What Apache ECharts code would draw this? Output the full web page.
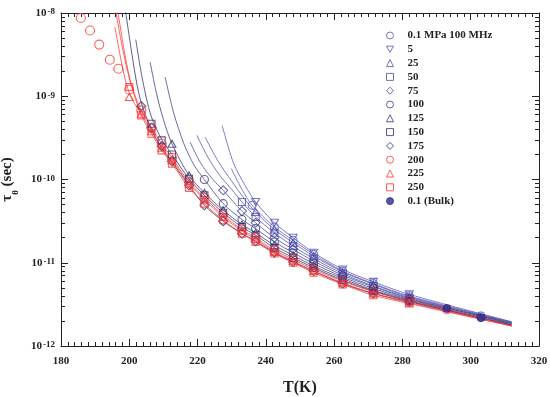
<!DOCTYPE html>
<html><head><meta charset="utf-8">
<script src="https://cdn.jsdelivr.net/npm/echarts@6/dist/echarts.min.js"></script>
<style>html,body{margin:0;padding:0;background:#fff}#c{width:550px;height:397px}</style>
</head><body><div id="c"></div>
<script>
// ---------- data (T in K, tau in s) ----------
const xTicks = [180, 200, 220, 240, 260, 280, 300, 320];
const yDecades = [1e-12, 1e-11, 1e-10, 1e-9, 1e-8];

const T_p01 = [236, 242.5, 248, 254, 262.5, 271.5, 282];
const tau_p01 = [4.90e-11, 2.69e-11, 1.86e-11, 1.26e-11, 7.94e-12, 5.62e-12, 3.98e-12];
const T_p5 = [237, 242.5, 248, 254, 262.5, 271.5, 282];
const tau_p5 = [5.37e-11, 3.02e-11, 2.00e-11, 1.32e-11, 8.32e-12, 5.89e-12, 4.17e-12];
const T_p25 = [237, 242.5, 248, 254, 262.5, 271.5, 282];
const tau_p25 = [4.07e-11, 2.51e-11, 1.74e-11, 1.20e-11, 7.76e-12, 5.50e-12, 3.89e-12];
const T_p50 = [233, 237, 242.5, 248, 254, 262.5, 271.5, 282];
const tau_p50 = [5.37e-11, 3.55e-11, 2.29e-11, 1.58e-11, 1.12e-11, 7.41e-12, 5.25e-12, 3.80e-12];
const T_p75 = [227.5, 233, 237, 242.5, 248, 254, 262.5, 271.5, 282];
const tau_p75 = [7.41e-11, 4.17e-11, 3.02e-11, 2.00e-11, 1.45e-11, 1.05e-11, 7.08e-12, 5.13e-12, 3.72e-12];
const T_p100 = [222, 227.5, 233, 237, 242.5, 248, 254, 262.5, 271.5, 282, 303];
const tau_p100 = [1.00e-10, 5.13e-11, 3.31e-11, 2.57e-11, 1.78e-11, 1.32e-11, 9.77e-12, 6.76e-12, 4.90e-12, 3.63e-12, 2.29e-12];
const T_p125 = [212.5, 217.5, 222, 227.5, 233, 237, 242.5, 248, 254, 262.5, 271.5, 282];
const tau_p125 = [2.69e-10, 1.12e-10, 6.92e-11, 4.27e-11, 2.88e-11, 2.29e-11, 1.62e-11, 1.23e-11, 9.12e-12, 6.46e-12, 4.68e-12, 3.55e-12];
const T_p150 = [206.5, 209.5, 212.5, 217.5, 222, 227.5, 233, 237, 242.5, 248, 254, 262.5, 271.5, 282];
const tau_p150 = [4.68e-10, 2.95e-10, 2.00e-10, 1.02e-10, 6.46e-11, 3.98e-11, 2.69e-11, 2.14e-11, 1.51e-11, 1.15e-11, 8.71e-12, 6.17e-12, 4.57e-12, 3.47e-12];
const T_p175 = [203.5, 206.5, 209.5, 212.5, 217.5, 222, 227.5, 233, 237, 242.5, 248, 254, 262.5, 271.5, 282];
const tau_p175 = [7.59e-10, 4.17e-10, 2.51e-10, 1.66e-10, 8.51e-11, 4.90e-11, 3.16e-11, 2.24e-11, 1.82e-11, 1.32e-11, 1.02e-11, 7.94e-12, 5.62e-12, 4.27e-12, 3.39e-12];
const T_p200 = [185.8, 188.5, 191.2, 194.3, 196.8, 200, 203.5, 206.5, 209.5, 212.5, 217.5, 222, 227.5, 233, 237, 242.5, 248, 254, 262.5, 271.5, 282, 293];
const tau_p200 = [8.71e-9, 6.17e-9, 4.17e-9, 2.75e-9, 2.14e-9, 1.20e-9, 6.76e-10, 4.17e-10, 2.69e-10, 1.82e-10, 9.33e-11, 6.03e-11, 3.72e-11, 2.51e-11, 2.00e-11, 1.41e-11, 1.10e-11, 8.32e-12, 6.03e-12, 4.47e-12, 3.47e-12, 2.75e-12];
const T_p225 = [200, 203.5, 206.5, 209.5, 212.5, 217.5, 222, 227.5, 233, 237, 242.5, 248, 254, 262.5, 271.5, 282];
const tau_p225 = [9.77e-10, 6.17e-10, 3.80e-10, 2.40e-10, 1.70e-10, 8.91e-11, 5.75e-11, 3.55e-11, 2.40e-11, 1.91e-11, 1.35e-11, 1.05e-11, 7.94e-12, 5.75e-12, 4.27e-12, 3.31e-12];
const T_p250 = [200, 203.5, 206.5, 209.5, 212.5, 217.5, 222, 227.5, 233, 237, 242.5, 248, 254, 262.5, 271.5, 282];
const tau_p250 = [1.29e-9, 5.89e-10, 3.55e-10, 2.24e-10, 1.55e-10, 7.94e-11, 5.13e-11, 3.24e-11, 2.24e-11, 1.78e-11, 1.29e-11, 1.00e-11, 7.59e-12, 5.50e-12, 4.07e-12, 3.24e-12];
const T_bulk = [293, 303];
const tau_bulk = [2.82e-12, 2.19e-12];

// fitted curves
const fitT_p5 = [227.2, 230.5, 233.9, 237, 242.5, 248, 254, 262.5, 271.5, 282, 312];
const fitTau_p5 = [4.47e-10, 1.58e-10, 8.51e-11, 5.37e-11, 3.02e-11, 2.00e-11, 1.32e-11, 8.32e-12, 5.89e-12, 4.17e-12, 1.95e-12];
const fitT_p01 = [229.9, 233, 236, 242.5, 248, 254, 262.5, 271.5, 282, 312];
const fitTau_p01 = [1.35e-10, 7.59e-11, 4.90e-11, 2.69e-11, 1.86e-11, 1.26e-11, 7.94e-12, 5.62e-12, 3.98e-12, 1.95e-12];
const fitT_p25 = [222.2, 226, 230, 233.5, 237, 242.5, 248, 254, 262.5, 271.5, 282, 312];
const fitTau_p25 = [3.24e-10, 1.66e-10, 9.55e-11, 6.03e-11, 4.07e-11, 2.51e-11, 1.74e-11, 1.20e-11, 7.76e-12, 5.50e-12, 3.89e-12, 1.91e-12];
const fitT_p50 = [219.8, 223, 226.5, 230, 233, 237, 242.5, 248, 254, 262.5, 271.5, 282, 312];
const fitTau_p50 = [3.39e-10, 1.86e-10, 1.12e-10, 7.59e-11, 5.37e-11, 3.55e-11, 2.29e-11, 1.58e-11, 1.12e-11, 7.41e-12, 5.25e-12, 3.80e-12, 1.91e-12];
const fitT_p75 = [217.8, 221, 224.5, 227.5, 233, 237, 242.5, 248, 254, 262.5, 271.5, 282, 312];
const fitTau_p75 = [2.82e-10, 1.55e-10, 1.00e-10, 7.41e-11, 4.17e-11, 3.02e-11, 2.00e-11, 1.45e-11, 1.05e-11, 7.08e-12, 5.13e-12, 3.72e-12, 1.86e-12];
const fitT_p100 = [210.5, 213, 216, 219, 222, 227.5, 233, 237, 242.5, 248, 254, 262.5, 271.5, 282, 303, 312];
const fitTau_p100 = [1.70e-9, 6.31e-10, 2.69e-10, 1.48e-10, 1.00e-10, 5.13e-11, 3.31e-11, 2.57e-11, 1.78e-11, 1.32e-11, 9.77e-12, 6.76e-12, 4.90e-12, 3.63e-12, 2.29e-12, 1.86e-12];
const fitT_p125 = [206.1, 208, 210, 212.5, 217.5, 222, 227.5, 233, 237, 242.5, 248, 254, 262.5, 271.5, 282, 312];
const fitTau_p125 = [2.57e-9, 1.07e-9, 5.25e-10, 2.69e-10, 1.12e-10, 6.92e-11, 4.27e-11, 2.88e-11, 2.29e-11, 1.62e-11, 1.23e-11, 9.12e-12, 6.46e-12, 4.68e-12, 3.55e-12, 1.82e-12];
const fitT_p150 = [201.9, 203.5, 205, 206.5, 209.5, 212.5, 217.5, 222, 227.5, 233, 237, 242.5, 248, 254, 262.5, 271.5, 282, 312];
const fitTau_p150 = [4.79e-9, 1.91e-9, 9.55e-10, 5.62e-10, 3.02e-10, 2.00e-10, 1.02e-10, 6.46e-11, 3.98e-11, 2.69e-11, 2.14e-11, 1.51e-11, 1.15e-11, 8.71e-12, 6.17e-12, 4.57e-12, 3.47e-12, 1.78e-12];
const fitT_p175 = [198.8, 200.5, 202, 203.5, 206.5, 209.5, 212.5, 217.5, 222, 227.5, 233, 237, 242.5, 248, 254, 262.5, 271.5, 282, 312];
const fitTau_p175 = [1.12e-8, 3.80e-9, 1.58e-9, 8.32e-10, 3.98e-10, 2.40e-10, 1.62e-10, 8.51e-11, 4.90e-11, 3.16e-11, 2.24e-11, 1.82e-11, 1.32e-11, 1.02e-11, 7.94e-12, 5.62e-12, 4.27e-12, 3.39e-12, 1.78e-12];
const fitT_p200 = [196, 198, 200, 201.5, 203.5, 206.5, 209.5, 212.5, 217.5, 222, 227.5, 233, 237, 242.5, 248, 254, 262.5, 271.5, 282, 293, 312];
const fitTau_p200 = [1.07e-8, 3.80e-9, 1.66e-9, 1.07e-9, 6.76e-10, 4.17e-10, 2.69e-10, 1.82e-10, 9.33e-11, 6.03e-11, 3.72e-11, 2.51e-11, 2.00e-11, 1.41e-11, 1.10e-11, 8.32e-12, 6.03e-12, 4.47e-12, 3.47e-12, 2.75e-12, 1.74e-12];
const fitT_p225 = [195.8, 197.5, 199.2, 201, 203.5, 206.5, 209.5, 212.5, 217.5, 222, 227.5, 233, 237, 242.5, 248, 254, 262.5, 271.5, 282, 312];
const fitTau_p225 = [6.76e-9, 2.82e-9, 1.38e-9, 8.91e-10, 6.17e-10, 3.80e-10, 2.40e-10, 1.70e-10, 8.91e-11, 5.75e-11, 3.55e-11, 2.40e-11, 1.91e-11, 1.35e-11, 1.05e-11, 7.94e-12, 5.75e-12, 4.27e-12, 3.31e-12, 1.74e-12];
const fitT_p250 = [196.6, 198.5, 200.3, 201.8, 203.5, 206.5, 209.5, 212.5, 217.5, 222, 227.5, 233, 237, 242.5, 248, 254, 262.5, 271.5, 282, 312];
const fitTau_p250 = [1.07e-8, 3.55e-9, 1.51e-9, 9.33e-10, 5.89e-10, 3.55e-10, 2.24e-10, 1.55e-10, 7.94e-11, 5.13e-11, 3.24e-11, 2.24e-11, 1.78e-11, 1.29e-11, 1.00e-11, 7.59e-12, 5.50e-12, 4.07e-12, 3.24e-12, 1.74e-12];

// ---------- styling ----------
const DOWN_TRI = 'path://M0,0L10,0L5,9Z';
const defs = [
  {name: '0.1 MPa 100 MHz', T: T_p01, tau: tau_p01, fT: fitT_p01, fTau: fitTau_p01, sym: 'circle', size: 8, color: '#5858bc'},
  {name: '5', T: T_p5, tau: tau_p5, fT: fitT_p5, fTau: fitTau_p5, sym: DOWN_TRI, size: [8, 7], color: '#5555b6'},
  {name: '25', T: T_p25, tau: tau_p25, fT: fitT_p25, fTau: fitTau_p25, sym: 'triangle', size: [8, 7], color: '#5151ae'},
  {name: '50', T: T_p50, tau: tau_p50, fT: fitT_p50, fTau: fitTau_p50, sym: 'rect', size: 7, color: '#4d4da6'},
  {name: '75', T: T_p75, tau: tau_p75, fT: fitT_p75, fTau: fitTau_p75, sym: 'diamond', size: [9, 9], color: '#47479c'},
  {name: '100', T: T_p100, tau: tau_p100, fT: fitT_p100, fTau: fitTau_p100, sym: 'circle', size: 8, color: '#3d3d82'},
  {name: '125', T: T_p125, tau: tau_p125, fT: fitT_p125, fTau: fitTau_p125, sym: 'triangle', size: [8, 7], color: '#363676'},
  {name: '150', T: T_p150, tau: tau_p150, fT: fitT_p150, fTau: fitTau_p150, sym: 'rect', size: 7, color: '#2f2f6c'},
  {name: '175', T: T_p175, tau: tau_p175, fT: fitT_p175, fTau: fitTau_p175, sym: 'diamond', size: [9, 9], color: '#2a2a62'},
  {name: '200', T: T_p200, tau: tau_p200, fT: fitT_p200, fTau: fitTau_p200, sym: 'circle', size: 9, color: '#ff3535'},
  {name: '225', T: T_p225, tau: tau_p225, fT: fitT_p225, fTau: fitTau_p225, sym: 'triangle', size: [8, 7], color: '#ff3535'},
  {name: '250', T: T_p250, tau: tau_p250, fT: fitT_p250, fTau: fitTau_p250, sym: 'rect', size: 7, color: '#ff3535'},
  {name: '0.1 (Bulk)', T: T_bulk, tau: tau_bulk, fT: null, fTau: null, sym: 'circle', size: 8, color: '#2c2c90', filled: true}
];

const FONT = "'Liberation Serif', 'Times New Roman', serif";
const TXT = '#222';

const series = [];
defs.forEach(d => {
  if (d.fT) {
    series.push({
      name: 'fit ' + d.name, type: 'line', silent: true, symbol: 'none', showSymbol: false,
      smooth: 0.3, z: 2, animation: false,
      data: d.fT.map((t, i) => [t, d.fTau[i]]),
      lineStyle: {width: 0.9, color: d.color, opacity: 0.85}
    });
  }
});
defs.forEach(d => {
  series.push({
    name: d.name, type: 'scatter', z: 3, animation: false,
    symbol: d.sym, symbolSize: d.size,
    data: d.T.map((t, i) => [t, d.tau[i]]),
    itemStyle: d.filled ? {color: d.color, borderColor: d.color, borderWidth: 1}
                        : {color: 'rgba(255,255,255,0)', borderColor: d.color, borderWidth: 1.1}
  });
});

const minorY = [];
for (let i = 0; i < yDecades.length - 1; i++) {
  for (let k = 2; k <= 9; k++) minorY.push(k * yDecades[i]);
}

const mkAxisLine = () => ({show: true, lineStyle: {color: '#222', width: 1}});
const mkMajTick = () => ({show: true, inside: true, length: 7, lineStyle: {color: '#222', width: 1}});
const mkMinTickX = () => ({show: true, splitNumber: 10, length: 4, lineStyle: {color: '#222', width: 1}});
const mkMinTickY = () => ({show: true, inside: true, length: 4, customValues: minorY, lineStyle: {color: '#222', width: 1}});
const labelStyle = {fontFamily: FONT, fontWeight: 'bold', fontSize: 11, color: TXT};

const option = {
  animation: false,
  backgroundColor: '#fff',
  grid: {left: 61, right: 11, top: 13, bottom: 51, containLabel: false, outerBoundsMode: 'none'},
  legend: {
    orient: 'vertical', left: 381, top: 25, itemWidth: 7, itemHeight: 7, itemGap: 2.8,
    data: defs.map(d => ({
      name: d.name,
      itemStyle: d.filled ? {color: d.color, borderColor: d.color, borderWidth: 1}
                          : {color: 'rgba(255,255,255,0)', borderColor: d.color, borderWidth: 1}
    })),
    textStyle: {fontFamily: FONT, fontWeight: 'bold', fontSize: 11, color: TXT, padding: [0, 0, 0, 9]},
    selectedMode: false
  },
  xAxis: [
    {type: 'value', position: 'bottom', min: xTicks[0], max: xTicks[xTicks.length - 1], interval: 20,
     axisLine: mkAxisLine(), axisTick: mkMajTick(), minorTick: mkMinTickX(),
     splitLine: {show: false}, minorSplitLine: {show: false},
     axisLabel: {...labelStyle, margin: 10},
     name: 'T(K)', nameLocation: 'middle', nameGap: 34,
     nameTextStyle: {fontFamily: FONT, fontWeight: 'bold', fontSize: 16, color: TXT}},
    {type: 'value', position: 'top', min: xTicks[0], max: xTicks[xTicks.length - 1], interval: 20,
     axisLine: mkAxisLine(), axisTick: mkMajTick(), minorTick: mkMinTickX(),
     splitLine: {show: false}, minorSplitLine: {show: false}, axisLabel: {show: false}}
  ],
  yAxis: [
    {type: 'log', logBase: 10, position: 'left', min: yDecades[0], max: yDecades[yDecades.length - 1],
     axisLine: mkAxisLine(), axisTick: mkMajTick(),
     splitLine: {show: false},
     axisLabel: {
       margin: 6,
       formatter: v => '{b|10}{s|' + Math.round(Math.log10(v)) + '}',
       rich: {
         b: {fontFamily: FONT, fontWeight: 'bold', fontSize: 11, color: TXT},
         s: {fontFamily: FONT, fontWeight: 'bold', fontSize: 9, color: TXT, verticalAlign: 'top', padding: [0, 0, 0, 1]}
       }
     },
     name: '{t|τ}{s|θ}{t| (sec)}', nameLocation: 'middle', nameGap: 39, nameRotate: 90,
     nameTextStyle: {
       rich: {
         t: {fontFamily: FONT, fontWeight: 'bold', fontSize: 15, color: TXT, lineHeight: 20, verticalAlign: 'top'},
         s: {fontFamily: FONT, fontWeight: 'bold', fontSize: 9, color: TXT, lineHeight: 12, verticalAlign: 'bottom'}
       }
     }},
    {type: 'log', logBase: 10, position: 'left', min: yDecades[0], max: yDecades[yDecades.length - 1],
     axisLine: {show: false}, axisTick: mkMinTickY(),
     splitLine: {show: false}, axisLabel: {show: false}},
    {type: 'log', logBase: 10, position: 'right', min: yDecades[0], max: yDecades[yDecades.length - 1],
     axisLine: mkAxisLine(), axisTick: mkMajTick(),
     splitLine: {show: false}, axisLabel: {show: false}},
    {type: 'log', logBase: 10, position: 'right', min: yDecades[0], max: yDecades[yDecades.length - 1],
     axisLine: {show: false}, axisTick: mkMinTickY(),
     splitLine: {show: false}, axisLabel: {show: false}}
  ],
  series
};

const chart = echarts.init(document.getElementById('c'), null, {renderer: 'canvas'});
chart.setOption(option);
</script></body></html>
